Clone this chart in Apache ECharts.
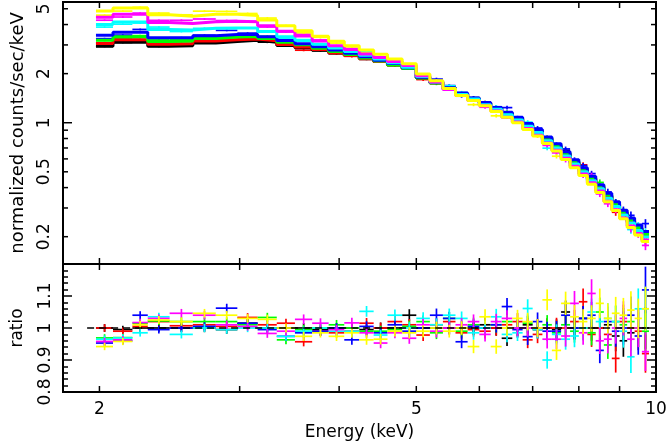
<!DOCTYPE html>
<html>
<head>
<meta charset="utf-8">
<title>spectrum + ratio</title>
<script src="https://cdn.jsdelivr.net/npm/echarts@6/dist/echarts.min.js"></script>
<style>
  html, body { margin: 0; padding: 0; background: #fff; }
  #chart { width: 667px; height: 443px; }
</style>
</head>
<body>
<div id="chart"></div>
<script>
// energy bin edges (keV), shared by every data set
const binEdges = [1.98, 2.08, 2.20, 2.30, 2.45, 2.62, 2.80, 2.98, 3.16, 3.34, 3.52, 3.70, 3.88, 4.06, 4.24, 4.42,
    4.60, 4.80, 5.00, 5.20, 5.40, 5.60, 5.80, 6.00, 6.20, 6.40, 6.60, 6.80, 7.00, 7.20, 7.40, 7.60, 7.80,
    8.00, 8.20, 8.40, 8.60, 8.80, 9.00, 9.20, 9.40, 9.60, 9.80];

// model (histogram) in normalized counts/sec/keV, one per data set
const modelBlack = [2.94, 3.12, 3.12, 2.94, 2.96, 3.08, 3.15, 3.20, 3.12, 2.98, 2.88, 2.78, 2.68, 2.58, 2.47, 2.37, 2.26, 2.15,
    1.88, 1.76, 1.62, 1.50, 1.41, 1.32, 1.23, 1.14, 1.06, 0.97, 0.89, 0.80, 0.72, 0.645, 0.575, 0.515, 0.455, 0.405,
    0.355, 0.315, 0.28, 0.25, 0.225, 0.205];
const modelRed = [3.06, 3.23, 3.23, 3.03, 3.05, 3.17, 3.23, 3.26, 3.18, 3.02, 2.91, 2.81, 2.69, 2.58, 2.47, 2.37, 2.26, 2.15,
    1.88, 1.76, 1.62, 1.50, 1.40, 1.31, 1.22, 1.13, 1.05, 0.96, 0.88, 0.79, 0.713, 0.638, 0.569, 0.51, 0.45, 0.40,
    0.351, 0.312, 0.277, 0.247, 0.222, 0.203];
const modelGreen = [3.20, 3.37, 3.37, 3.15, 3.17, 3.28, 3.35, 3.38, 3.28, 3.11, 3.01, 2.86, 2.73, 2.62, 2.49, 2.39, 2.26, 2.15,
    1.88, 1.76, 1.62, 1.50, 1.41, 1.32, 1.23, 1.14, 1.06, 0.975, 0.895, 0.805, 0.725, 0.65, 0.58, 0.52, 0.46, 0.41,
    0.36, 0.318, 0.283, 0.253, 0.227, 0.207];
const modelBlue = [3.44, 3.59, 3.59, 3.32, 3.32, 3.42, 3.47, 3.49, 3.37, 3.19, 3.05, 2.92, 2.79, 2.67, 2.54, 2.42, 2.31, 2.17,
    1.90, 1.78, 1.64, 1.52, 1.42, 1.33, 1.24, 1.16, 1.08, 0.99, 0.91, 0.816, 0.742, 0.664, 0.592, 0.53, 0.469, 0.417,
    0.369, 0.328, 0.291, 0.26, 0.236, 0.215];
const modelCyan = [4.00, 4.15, 4.15, 3.73, 3.70, 3.79, 3.81, 3.81, 3.62, 3.37, 3.20, 3.03, 2.87, 2.73, 2.59, 2.46, 2.33, 2.19,
    1.92, 1.78, 1.62, 1.49, 1.40, 1.29, 1.21, 1.12, 1.04, 0.95, 0.87, 0.776, 0.70, 0.626, 0.558, 0.50, 0.441, 0.393,
    0.344, 0.306, 0.272, 0.243, 0.218, 0.199];
const modelMagenta = [4.44, 4.62, 4.62, 4.12, 4.06, 4.16, 4.19, 4.16, 3.93, 3.64, 3.40, 3.17, 2.97, 2.81, 2.64, 2.51, 2.37, 2.24,
    1.94, 1.78, 1.60, 1.47, 1.37, 1.27, 1.18, 1.08, 1.01, 0.92, 0.837, 0.752, 0.677, 0.606, 0.54, 0.484, 0.428, 0.381,
    0.33, 0.293, 0.26, 0.233, 0.209, 0.191];
const modelYellow = [4.85, 5.05, 5.05, 4.59, 4.50, 4.62, 4.63, 4.54, 4.27, 3.93, 3.66, 3.39, 3.16, 2.97, 2.79, 2.63, 2.46, 2.30,
    1.99, 1.81, 1.62, 1.47, 1.37, 1.27, 1.17, 1.08, 1.00, 0.91, 0.83, 0.745, 0.67, 0.595, 0.53, 0.475, 0.42, 0.373,
    0.327, 0.29, 0.258, 0.228, 0.205, 0.187];

// data / model ratio, one per data set
const ratioBlack = [1.000, 0.995, 1.000, 1.000, 1.000, 1.000, 0.995, 1.015, 1.000, 1.000, 1.000, 0.995, 1.000, 1.000,
    0.995, 1.000, 1.000, 1.040, 1.000, 1.000, 1.000, 1.000, 1.000, 1.010, 1.000, 0.968, 1.000, 1.010, 0.995, 1.000,
    0.995, 1.050, 1.000, 1.030, 1.000, 1.000, 1.010, 0.975, 0.960, 0.985, 1.000, 1.000];
const ratioRed = [1.000, 0.990, 1.005, 1.020, 1.007, 1.010, 1.005, 1.033, 1.010, 1.015, 0.957, 0.990, 0.985, 0.990,
    1.015, 1.000, 1.020, 1.010, 0.978, 1.010, 1.020, 0.985, 0.995, 0.990, 1.000, 1.010, 1.020, 0.963, 0.980, 1.000,
    1.000, 1.000, 1.020, 1.082, 0.980, 1.000, 0.980, 0.905, 1.020, 1.000, 0.990, 0.920];
const ratioGreen = [0.969, 0.970, 1.015, 1.022, 1.020, 1.020, 1.020, 1.010, 1.033, 0.963, 0.995, 1.000, 1.010, 1.000,
    0.990, 0.990, 0.995, 1.005, 1.020, 0.985, 1.030, 0.990, 1.010, 1.000, 1.010, 1.020, 1.000, 1.015, 1.000, 1.010,
    0.985, 1.010, 0.990, 1.000, 0.985, 1.050, 0.947, 1.020, 1.010, 1.020, 1.000, 0.990];
const ratioBlue = [0.953, 0.960, 1.040, 0.995, 1.000, 1.005, 1.062, 1.015, 0.995, 0.974, 0.985, 0.990, 1.000, 0.963,
    1.005, 0.985, 1.010, 0.990, 1.000, 1.040, 1.030, 0.957, 1.005, 1.000, 1.010, 1.067, 0.995, 0.973, 1.020, 0.990,
    0.990, 1.040, 1.000, 1.030, 1.040, 0.930, 1.020, 0.990, 1.000, 1.040, 0.975, 1.119];
const ratioCyan = [0.965, 0.969, 0.985, 1.035, 0.980, 1.000, 0.995, 1.000, 1.000, 0.974, 0.990, 1.000, 0.990, 0.990,
    1.052, 0.978, 1.040, 1.000, 1.030, 1.010, 1.040, 1.030, 0.985, 1.000, 1.035, 0.980, 0.985, 1.061, 0.995, 0.900,
    0.980, 0.965, 0.975, 1.000, 1.050, 1.020, 1.030, 1.020, 0.990, 0.910, 1.060, 1.060];
const ratioMagenta = [0.958, 0.963, 1.017, 1.030, 1.046, 1.040, 1.010, 1.005, 0.983, 0.990, 1.027, 1.015, 0.995, 1.016,
    0.985, 0.953, 0.985, 0.968, 1.010, 0.990, 1.000, 1.010, 1.020, 0.980, 1.020, 1.030, 1.000, 1.000, 1.000, 0.965,
    0.965, 0.975, 1.077, 0.985, 1.108, 0.960, 0.965, 1.000, 1.030, 0.965, 1.000, 0.926];
const ratioYellow = [0.942, 0.958, 1.010, 1.025, 1.020, 1.046, 1.040, 1.030, 1.027, 1.000, 0.974, 0.985, 0.974, 0.985,
    0.963, 0.965, 0.990, 0.985, 0.990, 1.000, 0.990, 1.000, 0.942, 1.035, 0.942, 1.000, 1.030, 1.020, 1.000, 1.088,
    0.930, 1.077, 1.035, 1.020, 1.030, 1.077, 1.030, 1.046, 1.040, 1.056, 1.030, 1.060];

// fractional 1-sigma error per bin
const ratioErr = [0.012, 0.012, 0.012, 0.012, 0.013, 0.013, 0.013, 0.013, 0.014, 0.014, 0.015, 0.015, 0.015, 0.016,
    0.016, 0.017, 0.017, 0.018, 0.019, 0.020, 0.020, 0.021, 0.022, 0.023, 0.024, 0.025, 0.026, 0.027, 0.028, 0.030,
    0.032, 0.034, 0.036, 0.038, 0.040, 0.043, 0.046, 0.049, 0.052, 0.056, 0.060, 0.065];

// axes
const xRange = [1.8, 10];
const xTickValues = [2, 3, 4, 5, 6, 7, 8, 9];
const xLabelValues = [2, 5, 10];
const yRangeTop = [0.136, 5.5];
const yTicksTop = [0.2, 0.3, 0.4, 0.5, 0.6, 0.7, 0.8, 0.9, 1, 2, 3, 4, 5];
const yMajorTop = [1];
const yLabelValuesTop = [0.2, 0.5, 1, 2, 5];
const ratioRange = [0.8, 1.2];
const unityLine = [[1.93, 1], [9.8, 1]];

const sets = [
    { color: '#000000', model: modelBlack, ratio: ratioBlack },
    { color: '#ff0000', model: modelRed, ratio: ratioRed },
    { color: '#00ff00', model: modelGreen, ratio: ratioGreen },
    { color: '#0000ff', model: modelBlue, ratio: ratioBlue },
    { color: '#00ffff', model: modelCyan, ratio: ratioCyan },
    { color: '#ff00ff', model: modelMagenta, ratio: ratioMagenta },
    { color: '#ffff00', model: modelYellow, ratio: ratioYellow }
];

const FONT = '17px "DejaVu Sans"';
const LINE = { stroke: '#000', lineWidth: 1.5 };

function renderCross(params, api) {
    const lo = api.value(0), hi = api.value(1), c = api.value(2), v = api.value(3), e = api.value(4);
    const a = api.coord([lo, v]), b = api.coord([hi, v]);
    const t = api.coord([c, v + e]), u = api.coord([c, v - e]);
    const style = { stroke: api.visual('color'), lineWidth: 1.7 };
    return {
        type: 'group',
        children: [
            { type: 'line', shape: { x1: a[0], y1: a[1], x2: b[0], y2: b[1] }, style: style },
            { type: 'line', shape: { x1: t[0], y1: t[1], x2: u[0], y2: u[1] }, style: style }
        ]
    };
}

// inward x ticks on both edges of a panel, labels only under the lower one
function xTickSeries(gridIdx, withLabels) {
    const vals = withLabels ? xTickValues.concat([10]) : xTickValues;
    return {
        type: 'custom', xAxisIndex: gridIdx, yAxisIndex: gridIdx, silent: true, clip: false, z: 10,
        data: vals.map(v => [v, 1]),
        renderItem: function(params, api) {
            const v = api.value(0);
            const x = api.coord([v, 1])[0];
            const cs = params.coordSys;
            const children = [
                { type: 'line', shape: { x1: x, y1: cs.y, x2: x, y2: cs.y + 6 }, style: LINE },
                { type: 'line', shape: { x1: x, y1: cs.y + cs.height, x2: x, y2: cs.y + cs.height - 6 }, style: LINE }
            ];
            if (withLabels && xLabelValues.indexOf(v) >= 0) {
                children.push({
                    type: 'text', x: x, y: cs.y + cs.height + 18,
                    style: { text: String(v), font: FONT, fill: '#000', align: 'center', verticalAlign: 'middle' }
                });
            }
            return { type: 'group', children: children };
        }
    };
}

const series = [];

// upper panel: model histograms + data crosses
sets.forEach(s => {
    const steps = [];
    s.model.forEach((m, i) => { steps.push([binEdges[i], m], [binEdges[i + 1], m]); });
    series.push({
        type: 'line', xAxisIndex: 0, yAxisIndex: 0, data: steps, showSymbol: false, silent: true,
        lineStyle: { color: s.color, width: 3 }
    });
    series.push({
        type: 'custom', xAxisIndex: 0, yAxisIndex: 0, renderItem: renderCross, silent: true,
        itemStyle: { color: s.color }, encode: { x: 2, y: 3 },
        data: s.model.map((m, i) => {
            const v = m * s.ratio[i];
            return [binEdges[i], binEdges[i + 1], (binEdges[i] + binEdges[i + 1]) / 2, v, v * ratioErr[i]];
        })
    });
});

// lower panel: dashed unity line + ratio crosses
series.push({
    type: 'line', xAxisIndex: 1, yAxisIndex: 1, data: unityLine, showSymbol: false, silent: true,
    lineStyle: { color: '#000', width: 1.5, type: [7, 5] }
});
sets.forEach(s => {
    series.push({
        type: 'custom', xAxisIndex: 1, yAxisIndex: 1, renderItem: renderCross, silent: true,
        itemStyle: { color: s.color }, encode: { x: 2, y: 3 },
        data: s.ratio.map((r, i) => [binEdges[i], binEdges[i + 1], (binEdges[i] + binEdges[i + 1]) / 2, r, r * ratioErr[i]])
    });
});

// log-axis ticks and labels of the upper panel
series.push({
    type: 'custom', xAxisIndex: 0, yAxisIndex: 0, silent: true, clip: false, z: 10,
    data: yTicksTop.map(v => [2, v]),
    renderItem: function(params, api) {
        const v = api.value(1);
        const y = api.coord([2, v])[1];
        const cs = params.coordSys;
        const len = yMajorTop.indexOf(v) >= 0 ? 9 : 5;
        const children = [
            { type: 'line', shape: { x1: cs.x, y1: y, x2: cs.x + len, y2: y }, style: LINE },
            { type: 'line', shape: { x1: cs.x + cs.width, y1: y, x2: cs.x + cs.width - len, y2: y }, style: LINE }
        ];
        if (yLabelValuesTop.indexOf(v) >= 0) {
            children.push({
                type: 'text', x: cs.x - 18, y: y, rotation: Math.PI / 2,
                style: { text: String(v), font: FONT, fill: '#000', align: 'center', verticalAlign: 'middle' }
            });
        }
        return { type: 'group', children: children };
    }
});
series.push(xTickSeries(0, false));
series.push(xTickSeries(1, true));

const hidden = { axisLine: { show: false }, axisTick: { show: false }, axisLabel: { show: false }, splitLine: { show: false } };
const ratioTicks = {
    axisLine: { show: false },
    axisTick: { show: true, inside: true, length: 9, lineStyle: { color: '#000', width: 1.5 } },
    minorTick: { show: true, splitNumber: 5, length: 5, lineStyle: { color: '#000', width: 1.5 } },
    splitLine: { show: false },
    minorSplitLine: { show: false }
};

const chart = echarts.init(document.getElementById('chart'), null, { renderer: 'canvas' });
chart.setOption({
    animation: false,
    backgroundColor: '#fff',
    textStyle: { fontFamily: 'DejaVu Sans', color: '#000' },
    grid: [
        { left: 63, right: 11, top: 2, height: 262, show: true, borderColor: '#000', borderWidth: 2 },
        { left: 63, right: 11, top: 264, height: 128, show: true, borderColor: '#000', borderWidth: 2 }
    ],
    xAxis: [
        Object.assign({ type: 'log', gridIndex: 0, min: xRange[0], max: xRange[1] }, hidden),
        Object.assign({
            type: 'log', gridIndex: 1, min: xRange[0], max: xRange[1],
            name: 'Energy (keV)', nameLocation: 'middle', nameGap: 32,
            nameTextStyle: { fontSize: 17, fontFamily: 'DejaVu Sans', color: '#000' }
        }, hidden)
    ],
    yAxis: [
        Object.assign({
            type: 'log', gridIndex: 0, min: yRangeTop[0], max: yRangeTop[1],
            name: 'normalized counts/sec/keV', nameLocation: 'middle', nameGap: 36, nameRotate: 90,
            nameTextStyle: { fontSize: 18, fontFamily: 'DejaVu Sans', color: '#000' }
        }, hidden),
        Object.assign({
            type: 'value', gridIndex: 1, min: ratioRange[0], max: ratioRange[1], interval: 0.1,
            name: 'ratio', nameLocation: 'middle', nameGap: 37, nameRotate: 90,
            nameTextStyle: { fontSize: 17, fontFamily: 'DejaVu Sans', color: '#000' },
            axisLabel: {
                show: true, rotate: 90, margin: 9, fontSize: 17, fontFamily: 'DejaVu Sans', color: '#000',
                showMaxLabel: false, showMinLabel: true,
                formatter: v => String(parseFloat(v.toFixed(2)))
            }
        }, ratioTicks),
        Object.assign({
            type: 'value', gridIndex: 1, position: 'right', min: ratioRange[0], max: ratioRange[1], interval: 0.1,
            axisLabel: { show: false }
        }, ratioTicks)
    ],
    series: series
});
</script>
</body>
</html>
